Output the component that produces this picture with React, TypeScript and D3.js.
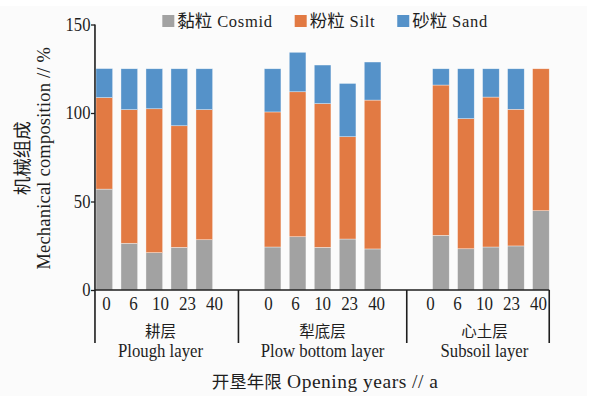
import React, { useEffect, useRef } from "react";
import * as d3 from "d3";

// ---- data ----
const groupsZh = ["耕层", "犁底层", "心土层"];
const groupsEn = ["Plough layer", "Plow bottom layer", "Subsoil layer"];
const years = ["0", "6", "10", "23", "40"];

// values per group (Plough, Plow bottom, Subsoil), per opening year
const cosmid = [
  [57.0, 26.4, 21.1, 24.1, 28.4],
  [24.3, 30.1, 24.1, 28.8, 23.2],
  [30.9, 23.3, 24.3, 24.9, 44.8],
];
const silt = [
  [51.7, 75.5, 81.3, 68.7, 73.5],
  [76.3, 81.9, 81.2, 57.8, 84.1],
  [84.9, 73.5, 84.7, 77.2, 80.2],
];
const sand = [
  [16.4, 23.1, 22.6, 32.2, 23.1],
  [24.4, 22.3, 21.8, 30.1, 21.5],
  [9.2, 28.2, 16.0, 22.9, 0.0],
];

const seriesKeys = ["cosmid", "silt", "sand"];
const seriesZh = ["黏粒", "粉粒", "砂粒"];
const seriesEn = ["Cosmid", "Silt", "Sand"];
const seriesColors = ["#A2A2A2", "#E27A43", "#5592C9"];

const yTicks = [0, 50, 100, 150];
const yTitleZh = "机械组成";
const yTitleEn = "Mechanical composition // %";
const xTitleZh = "开垦年限";
const xTitleEn = " Opening years // a";

const W = 595;
const H = 396;
const SERIF = "'Liberation Serif', 'Noto Sans CJK SC', serif";
const CJK = "'Noto Sans CJK SC', sans-serif";
const INK = "#1e1e1e";

export default function App() {
  const ref = useRef<SVGSVGElement | null>(null);

  useEffect(() => {
    const svg = d3.select(ref.current);
    svg.selectAll("*").remove();

    svg.append("rect").attr("x", 0).attr("y", 0).attr("width", W).attr("height", H).attr("fill", "#ffffff");
    svg.append("rect").attr("x", 0).attr("y", 6).attr("width", 587).attr("height", H - 6).attr("fill", "#fbfbfb");

    const y = d3.scaleLinear().domain([0, 150]).range([290, 24.5]);
    const x0 = d3.scaleBand<string>().domain(groupsZh).range([91.8, 553.4]).paddingInner(0.2573).paddingOuter(0);
    const x1 = d3
      .scaleBand<string>()
      .domain(years)
      .range([0, x0.bandwidth()])
      .paddingInner(1 / 3)
      .paddingOuter(1 / 6);

    const stack = d3.stack<any>().keys(seriesKeys);

    // bars
    groupsZh.forEach((g, gi) => {
      const rows = years.map((yr, i) => ({
        year: yr,
        cosmid: cosmid[gi][i],
        silt: silt[gi][i],
        sand: sand[gi][i],
      }));
      const layers = stack(rows);
      const gg = svg.append("g").attr("transform", `translate(${x0(g)},0)`);
      layers.forEach((layer, li) => {
        gg.selectAll(null)
          .data(layer)
          .enter()
          .append("rect")
          .attr("x", (d: any) => x1(d.data.year)!)
          .attr("width", x1.bandwidth())
          .attr("y", (d: any) => y(d[1]))
          .attr("height", (d: any) => Math.max(0, y(d[0]) - y(d[1])))
          .attr("fill", seriesColors[li])
          .attr("stroke", "#ffffff")
          .attr("stroke-opacity", 0.6)
          .attr("stroke-width", 0.6);
      });
    });

    // axes geometry
    const axisX = x0(groupsZh[0])! + x1(years[0])! - 1;
    const last = groupsZh[groupsZh.length - 1];
    const xEnd = x0(last)! + x1(years[years.length - 1])! + x1.bandwidth();
    const y0 = y(0);
    const yBottom = 343;
    const seps: number[] = [];
    for (let i = 0; i < groupsZh.length - 1; i++) {
      seps.push((x0(groupsZh[i])! + x0.bandwidth() + x0(groupsZh[i + 1])!) / 2);
    }
    const bounds = [axisX, ...seps, xEnd];

    // y axis
    const yAxis = d3.axisLeft(y).tickValues(yTicks).tickSize(4).tickSizeOuter(0).tickPadding(1);
    const ya = svg.append("g").attr("transform", `translate(${axisX},0)`).call(yAxis as any);
    ya.select(".domain").remove();
    ya.selectAll(".tick line").attr("stroke", INK).attr("stroke-width", 1.3);
    ya.selectAll(".tick text")
      .attr("fill", INK)
      .attr("transform", "scale(0.9,1)")
      .style("font-family", SERIF)
      .style("font-size", "18.5px");

    const lines = svg.append("g").attr("stroke", INK).attr("stroke-width", 1.6).attr("fill", "none");
    lines.append("line").attr("x1", axisX).attr("x2", axisX).attr("y1", y(150)).attr("y2", yBottom);
    lines.append("line").attr("x1", axisX).attr("x2", xEnd).attr("y1", y0).attr("y2", y0);
    [...seps, xEnd].forEach((sx) => {
      lines.append("line").attr("x1", sx).attr("x2", sx).attr("y1", y0).attr("y2", yBottom);
    });

    // category labels
    const yearPos = d3.scalePoint<string>().domain(years).range([-54, 54]);
    groupsZh.forEach((g, gi) => {
      const bandCenter = x0(g)! + x0.bandwidth() / 2;
      const segCenter = (bounds[gi] + bounds[gi + 1]) / 2;
      const c = (bandCenter + segCenter) / 2;
      years.forEach((yr) => {
        svg
          .append("text")
          .attr("transform", `translate(${c + yearPos(yr)!},310)scale(0.87,1)`)
          .attr("text-anchor", "middle")
          .attr("fill", INK)
          .style("font-family", SERIF)
          .style("font-size", "19.5px")
          .text(yr);
      });
      svg
        .append("text")
        .attr("x", c)
        .attr("y", 337)
        .attr("text-anchor", "middle")
        .attr("fill", INK)
        .style("font-family", CJK)
        .style("font-size", "15.5px")
        .text(g);
      svg
        .append("text")
        .attr("transform", `translate(${c},356.5)scale(0.93,1)`)
        .attr("text-anchor", "middle")
        .attr("fill", INK)
        .style("font-family", SERIF)
        .style("font-size", "18px")
        .text(groupsEn[gi]);
    });

    // legend
    const legend = svg.append("g");
    const items: { g: any; w: number }[] = [];
    seriesKeys.forEach((k, i) => {
      const g = legend.append("g");
      g.append("rect").attr("x", 0).attr("y", 15).attr("width", 12).attr("height", 12).attr("fill", seriesColors[i]);
      const t = g.append("text").attr("x", 15).attr("y", 27).attr("fill", INK);
      t.append("tspan").style("font-family", CJK).style("font-size", "17.5px").text(seriesZh[i]);
      t.append("tspan").style("font-family", SERIF).style("font-size", "16.5px").attr("letter-spacing", 0.7).text(" " + seriesEn[i]);
      const tw = (t.node() as SVGTextElement).getComputedTextLength();
      items.push({ g, w: 15 + tw });
    });
    const gap = 22;
    const totalW = d3.sum(items, (d) => d.w) + gap * (items.length - 1);
    let lx = (axisX + xEnd) / 2 + 3 - totalW / 2;
    items.forEach((it) => {
      it.g.attr("transform", `translate(${lx},0)`);
      lx += it.w + gap;
    });

    // y title
    const yt = svg.append("g").attr("transform", `translate(0,${(y(0) + y(150)) / 2 + 1})rotate(-90)`);
    yt.append("text")
      .attr("x", 0)
      .attr("y", 29)
      .attr("text-anchor", "middle")
      .attr("fill", INK)
      .style("font-family", CJK)
      .style("font-size", "18.5px")
      .text(yTitleZh);
    yt.append("text")
      .attr("x", 0)
      .attr("y", 50)
      .attr("text-anchor", "middle")
      .attr("fill", INK)
      .style("font-family", SERIF)
      .style("font-size", "18.5px")
      .attr("letter-spacing", 0.2)
      .text(yTitleEn);

    // x title
    const xt = svg
      .append("text")
      .attr("x", (axisX + xEnd) / 2 + 3)
      .attr("y", 388)
      .attr("text-anchor", "middle")
      .attr("fill", INK);
    xt.append("tspan").style("font-family", CJK).style("font-size", "17.5px").text(xTitleZh);
    xt.append("tspan").style("font-family", SERIF).style("font-size", "19.5px").attr("letter-spacing", 0.5).text(xTitleEn);
  }, []);

  return (
    <svg
      ref={ref}
      width={W}
      height={H}
      viewBox={`0 0 ${W} ${H}`}
      style={{ position: "absolute", left: 0, top: 0, display: "block" }}
    />
  );
}
